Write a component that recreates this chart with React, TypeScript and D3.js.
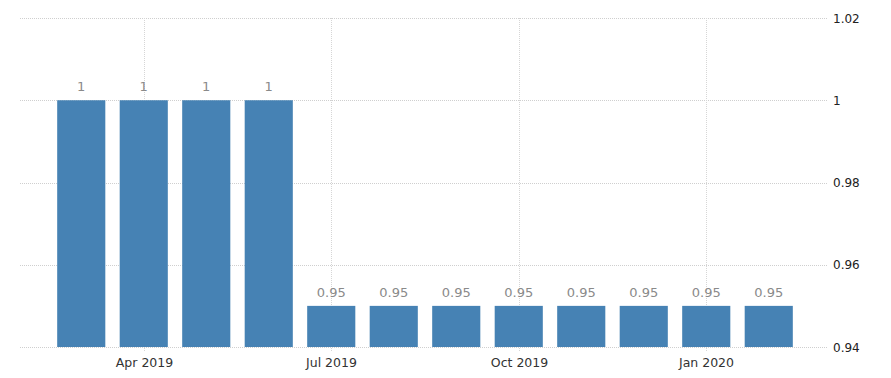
import React from "react";
import * as d3 from "d3";

const categories = ["2019-03", "2019-04", "2019-05", "2019-06", "2019-07", "2019-08", "2019-09", "2019-10", "2019-11", "2019-12", "2020-01", "2020-02"];
const values = [1, 1, 1, 1, 0.95, 0.95, 0.95, 0.95, 0.95, 0.95, 0.95, 0.95];
const valueLabels = ["1", "1", "1", "1", "0.95", "0.95", "0.95", "0.95", "0.95", "0.95", "0.95", "0.95"];
const xTickCategories = ["2019-04", "2019-07", "2019-10", "2020-01"];
const xTickLabels = ["Apr 2019", "Jul 2019", "Oct 2019", "Jan 2020"];
const yTicks = [0.94, 0.96, 0.98, 1, 1.02];
const yTickLabels = ["0.94", "0.96", "0.98", "1", "1.02"];

const W = 891;
const H = 378;
const FONT = "Tahoma, 'DejaVu Sans', Verdana, sans-serif";

export default function App() {
  const x = d3.scaleBand<string>().domain(categories).range([50, 800]).paddingInner(0.23).paddingOuter(0.115);
  const y = d3.scaleLinear().domain([0.94, 1.02]).range([347, 18]);
  const gridLeft = 20;
  const gridRight = 827;
  const bottom = y(0.94);
  const top = y(1.02);

  return (
    <svg width={W} height={H} style={{ position: "absolute", left: 0, top: 0, background: "#fff" }} fontFamily={FONT}>
      {yTicks.map((t, i) => (
        <g key={"y" + i}>
          <line x1={gridLeft} x2={gridRight} y1={Math.round(y(t)) + 0.5} y2={Math.round(y(t)) + 0.5} stroke="#cfcfcf" strokeDasharray="1,1" />
          <text x={833} y={y(t) + 4.5} fontSize={12} fill="#222">{yTickLabels[i]}</text>
        </g>
      ))}
      {xTickCategories.map((c, i) => {
        const cx = Math.round(x(c)! + x.bandwidth() / 2) + 0.5;
        return (
          <g key={"x" + i}>
            <line x1={cx} x2={cx} y1={top} y2={bottom + 5} stroke="#d6d6d6" strokeDasharray="1,1" />
            <text x={cx} y={367} fontSize={12.5} fill="#333" textAnchor="middle">{xTickLabels[i]}</text>
          </g>
        );
      })}
      {categories.map((c, i) => (
        <g key={"b" + i}>
          <rect x={x(c)} y={y(values[i])} width={x.bandwidth()} height={bottom - y(values[i])} fill="#4682B4" />
          <text x={x(c)! + x.bandwidth() / 2} y={y(values[i]) - 9} fontSize={13} fill="#8a8a8a" textAnchor="middle">{valueLabels[i]}</text>
        </g>
      ))}
    </svg>
  );
}
